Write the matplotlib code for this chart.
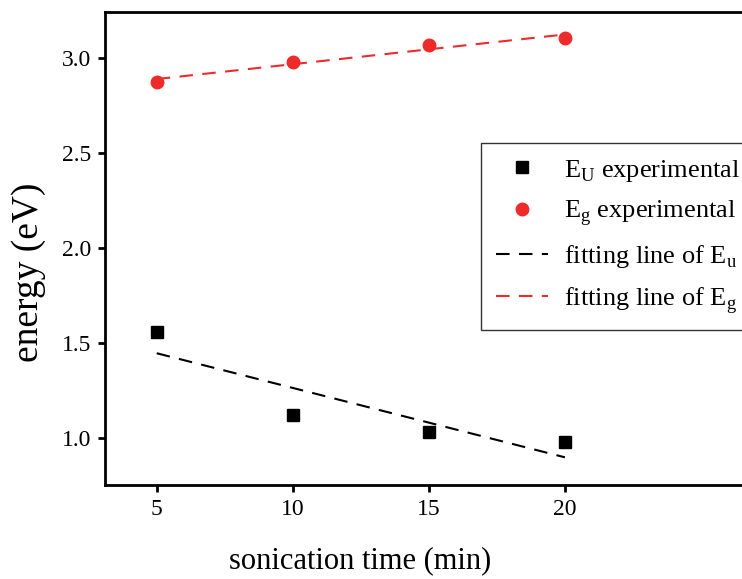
import numpy as np
import matplotlib
matplotlib.use("Agg")
import matplotlib.pyplot as plt

plt.rcParams['font.family'] = ['Liberation Serif']
plt.rcParams['mathtext.fontset'] = 'custom'
plt.rcParams['mathtext.rm'] = 'Liberation Serif'

# data
time_min = [5, 10, 15, 20]
e_u = [1.558, 1.121, 1.032, 0.979]
e_g = [2.874, 2.979, 3.068, 3.105]

x = np.array(time_min)
fit_u = np.polyval(np.polyfit(x, e_u, 1), x)
fit_g = np.polyval(np.polyfit(x, e_g, 1), x)

fig = plt.figure(figsize=(7.42, 5.79), dpi=100)
# axes runs past the right edge of the figure, as in the reference crop
ax = fig.add_axes([105 / 742, 1 - 485 / 579, 660 / 742, 473 / 579])

red = '#ee2a2a'
ax.plot(x, e_u, 's', color='black', markersize=8, label=r'E$_\mathregular{U}$ experimental')
ax.plot(x, e_g, 'o', color=red, markersize=9, label=r'E$_\mathregular{g}$ experimental')
ax.plot(x, fit_u, '--', color='black', linewidth=1.5, dashes=(6.5, 4.5), label=r'fitting line of E$_\mathregular{u}$')
ax.plot(x, fit_g, '--', color=red, linewidth=1.5, dashes=(6.5, 4.5), label=r'fitting line of E$_\mathregular{g}$')

ax.set_xlim(3.1, 27.35)
ax.set_ylim(0.753, 3.242)
ax.set_xticks([5, 10, 15, 20])
ax.set_yticks([1.0, 1.5, 2.0, 2.5, 3.0])
ax.set_yticklabels(['1.0', '1.5', '2.0', '2.5', '3.0'])

for s in ['left', 'bottom', 'top']:
    ax.spines[s].set_linewidth(2.0)
ax.spines['right'].set_visible(False)
ax.tick_params(direction='out', length=5, width=2, labelsize=17, pad=5)

ax.set_xlabel('sonication time (min)', fontsize=22)
ax.xaxis.set_label_coords((360 - 105) / 660, -0.13)
ax.set_ylabel('energy (eV)', fontsize=27)
ax.yaxis.set_label_coords((46 - 105) / 660, 0.45)

leg = ax.legend(loc='upper left', bbox_to_anchor=(481 / 742, 1 - 143 / 579),
                bbox_transform=fig.transFigure, fontsize=19, frameon=True,
                fancybox=False, handlelength=2.0, handletextpad=0.6,
                borderpad=0.55, borderaxespad=0, labelspacing=0.56)
leg.get_frame().set_edgecolor('black')
leg.get_frame().set_linewidth(1.0)

fig.savefig('out.png', dpi=100)
